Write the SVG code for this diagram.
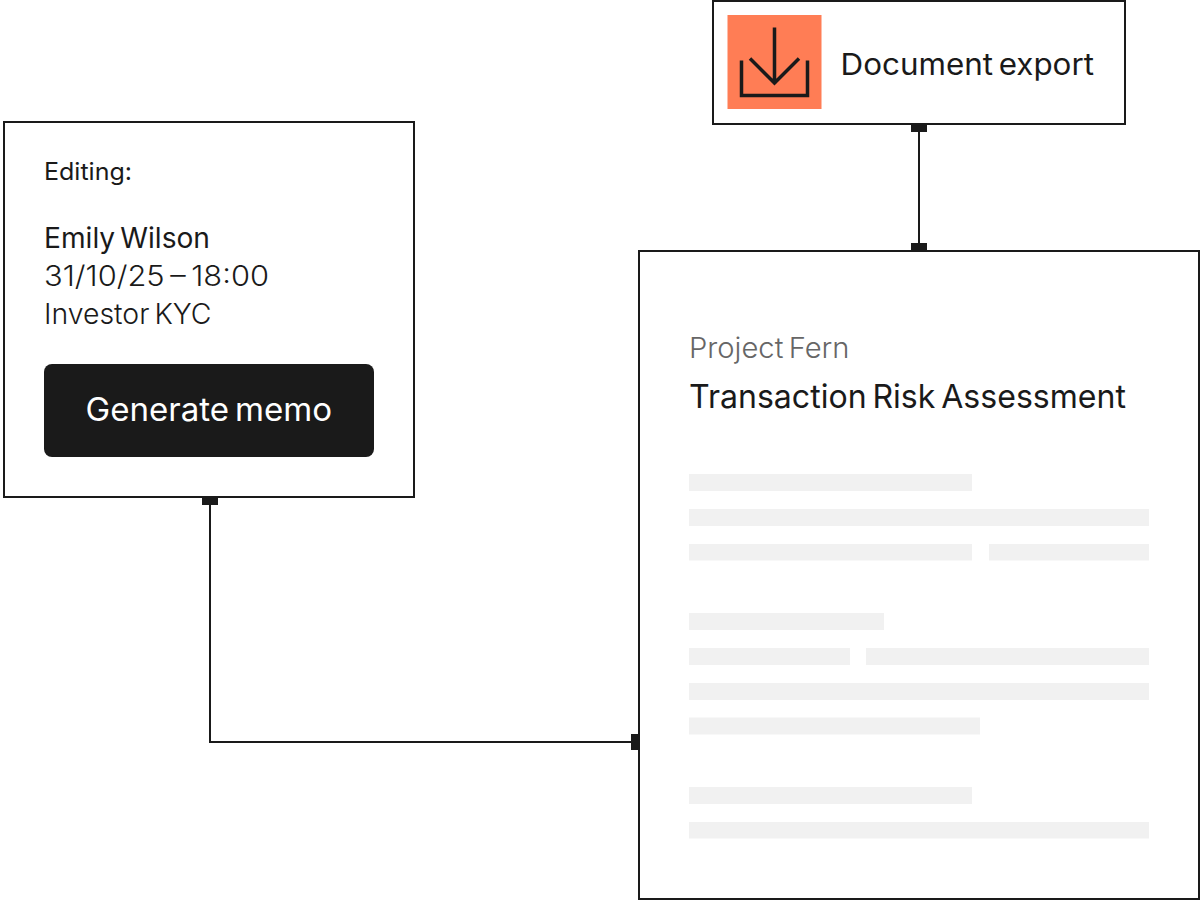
<svg xmlns="http://www.w3.org/2000/svg" width="1200" height="900" viewBox="0 0 1200 900">
<style>
text{font-family:"Inter","Noto Sans","Liberation Sans",sans-serif;fill:#1a1a1a;word-spacing:-0.1em}
.box{fill:#fff;stroke:#1a1a1a;stroke-width:2}
.bar{fill:#f1f1f1}
.line{fill:none;stroke:#1a1a1a;stroke-width:2}
.port{fill:#1a1a1a}
.icon{fill:none;stroke:#1a1a1a;stroke-width:3.500}
</style>
<rect width="1200" height="900" fill="#fff"/>
<g id="connectors">
<path class="line" d="M919 130V245"/>
<path class="line" d="M210 503V742H633"/>
</g>
<g id="node-export">
<rect class="box" x="713" y="1" width="412" height="123"/>
<rect x="727.500" y="15" width="94" height="94" fill="#ff7d55"/>
<path class="icon" d="M741.500 60.500V95.500H807.500V60.500M774.500 27.500V84M750 58.500L774.500 83L799 58.500"/>
<text x="840.500" y="75" font-size="30" textLength="253.500" lengthAdjust="spacingAndGlyphs">Document export</text>
<rect class="port" x="911" y="124" width="16" height="8"/>
</g>
<g id="node-editing">
<rect class="box" x="4" y="122" width="410" height="375"/>
<text x="44" y="180" font-size="24" textLength="88" lengthAdjust="spacingAndGlyphs">Editing:</text>
<text x="44" y="247.700" font-size="28" textLength="166" lengthAdjust="spacingAndGlyphs">Emily Wilson</text>
<text x="44" y="285.700" font-size="28" font-weight="300" textLength="225" lengthAdjust="spacingAndGlyphs">31/10/25 – 18:00</text>
<text x="44" y="323.700" font-size="28" font-weight="300" textLength="167.500" lengthAdjust="spacingAndGlyphs">Investor KYC</text>
<rect x="44" y="364" width="330" height="93" rx="8" fill="#1a1a1a"/>
<text x="85.500" y="420.700" font-size="32" style="fill:#fff" textLength="246.500" lengthAdjust="spacingAndGlyphs">Generate memo</text>
<rect class="port" x="202" y="497" width="16" height="8"/>
</g>
<g id="node-document">
<rect class="box" x="639" y="251" width="560" height="648"/>
<rect class="port" x="911" y="243" width="16" height="8"/>
<rect class="port" x="631" y="734" width="8" height="16"/>
<text x="689" y="358" font-size="28" font-weight="300" style="fill:#666" textLength="160.500" lengthAdjust="spacingAndGlyphs">Project Fern</text>
<text x="689" y="408" font-size="33" textLength="437" lengthAdjust="spacingAndGlyphs">Transaction Risk Assessment</text>
<rect class="bar" x="689" y="474" width="283" height="17"/>
<rect class="bar" x="689" y="509" width="460" height="17"/>
<rect class="bar" x="689" y="544" width="283" height="16.500"/>
<rect class="bar" x="989" y="544" width="160" height="16.500"/>
<rect class="bar" x="689" y="613" width="195" height="17"/>
<rect class="bar" x="689" y="648" width="161" height="17"/>
<rect class="bar" x="866" y="648" width="283" height="17"/>
<rect class="bar" x="689" y="683" width="460" height="17"/>
<rect class="bar" x="689" y="717.500" width="291" height="17"/>
<rect class="bar" x="689" y="787" width="283" height="17"/>
<rect class="bar" x="689" y="822" width="460" height="16.500"/>
</g>
</svg>
